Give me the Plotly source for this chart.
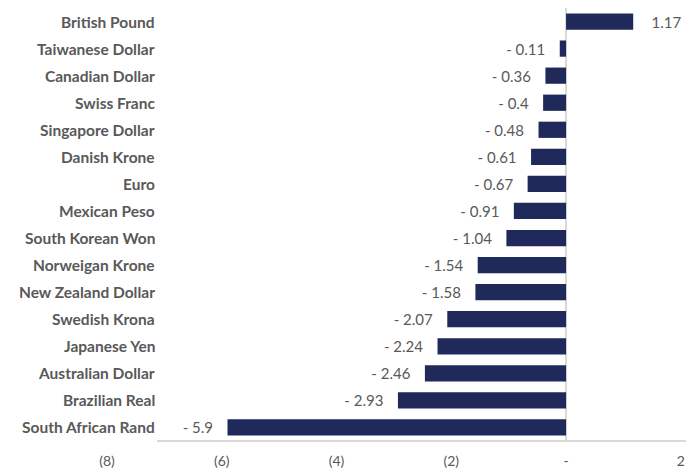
import plotly.graph_objects as go

currencies = ["British Pound", "Taiwanese Dollar", "Canadian Dollar", "Swiss Franc",
              "Singapore Dollar", "Danish Krone", "Euro", "Mexican Peso",
              "South Korean Won", "Norweigan Krone", "New Zealand Dollar",
              "Swedish Krona", "Japanese Yen", "Australian Dollar",
              "Brazilian Real", "South African Rand"]
values = [1.17, -0.11, -0.36, -0.4, -0.48, -0.61, -0.67, -0.91,
          -1.04, -1.54, -1.58, -2.07, -2.24, -2.46, -2.93, -5.9]
tick_vals = [-8, -6, -4, -2, 0, 2]
tick_text = ["(8)", "(6)", "(4)", "(2)", "-", "2"]

NB = "\u00a0"
labels = [(NB * 4 + f"{v}") if v >= 0 else (f"- {abs(v)}" + NB * 3) for v in values]

FONT = "Lato"
GRAY = "#595959"
BAR = "#1f2a5a"

fig = go.Figure(go.Bar(
    y=currencies, x=values, orientation="h",
    marker=dict(color=BAR, line=dict(width=0)),
    text=labels, textposition="outside", cliponaxis=False, constraintext="none",
    textfont=dict(family=FONT, size=15, color=GRAY),
    hoverinfo="skip",
))

# page body adds an 8px offset; compensate
OFF = 8
W, H = 697 - OFF, 468 - OFF
ml, mr, mt, mb = 107 - OFF, 11, 0, 26.5
plot_w = W - ml - mr
label_right_px = 157 - OFF
lx = (label_right_px - ml) / plot_w

annotations = [dict(text=c, x=lx, xref="paper", y=c, yref="y", xanchor="right",
                    yanchor="middle", showarrow=False,
                    font=dict(family=FONT, size=15.5, color=GRAY, weight="bold"))
               for c in currencies]

fig.update_layout(
    width=W, height=H,
    margin=dict(l=ml, r=mr, t=mt, b=mb, pad=0),
    paper_bgcolor="white", plot_bgcolor="white",
    bargap=0.4, showlegend=False,
    font=dict(family=FONT, size=14, color=GRAY),
    xaxis=dict(range=[-8, 2.09], tickvals=tick_vals, ticktext=tick_text,
               showgrid=False, zeroline=True, zerolinecolor="#d9d9d9", zerolinewidth=2,
               showline=False, ticks="", ticklabelstandoff=10,
               tickfont=dict(family=FONT, size=14, color=GRAY), fixedrange=True),
    yaxis=dict(categoryorder="array", categoryarray=currencies, autorange="reversed",
               showticklabels=False, showgrid=False, zeroline=False, showline=False,
               fixedrange=True),
    annotations=annotations,
    shapes=[dict(type="line", xref="paper", yref="paper", x0=lx, x1=1, y0=0, y1=0,
                 line=dict(color="#d9d9d9", width=2))],
)

fig.write_html("out.html")
